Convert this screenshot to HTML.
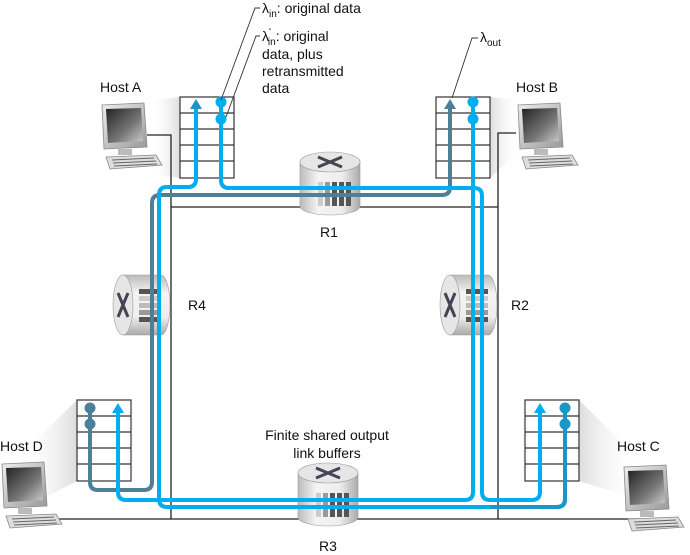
<!DOCTYPE html>
<html><head><meta charset="utf-8"><style>
html,body{margin:0;padding:0;background:#fff;}
svg{display:block;font-family:"Liberation Sans","DejaVu Sans",sans-serif;}
</style></head><body>
<svg width="690" height="555" viewBox="0 0 690 555" xmlns="http://www.w3.org/2000/svg">
<defs>
<linearGradient id="scr" x1="0" y1="0" x2="1" y2="1"><stop offset="0" stop-color="#222"/><stop offset="0.6" stop-color="#777"/><stop offset="1" stop-color="#ccc"/></linearGradient>
<linearGradient id="bez" x1="0" y1="0" x2="1" y2="1"><stop offset="0" stop-color="#eee"/><stop offset="1" stop-color="#999"/></linearGradient>
<linearGradient id="cylV" x1="0" y1="0" x2="1" y2="0"><stop offset="0" stop-color="#bbb"/><stop offset="0.3" stop-color="#f4f4f4"/><stop offset="0.7" stop-color="#eee"/><stop offset="1" stop-color="#aaa"/></linearGradient>
<linearGradient id="cylH" x1="0" y1="0" x2="0" y2="1"><stop offset="0" stop-color="#bbb"/><stop offset="0.3" stop-color="#f4f4f4"/><stop offset="0.7" stop-color="#eee"/><stop offset="1" stop-color="#aaa"/></linearGradient>
<linearGradient id="shL" x1="0" y1="0" x2="1" y2="0"><stop offset="0" stop-color="#fff" stop-opacity="0"/><stop offset="1" stop-color="#ddd"/></linearGradient>
<linearGradient id="shR" x1="1" y1="0" x2="0" y2="0"><stop offset="0" stop-color="#fff" stop-opacity="0"/><stop offset="1" stop-color="#ddd"/></linearGradient>
<g id="host">
  <path d="M2,2 L44,0 L47,44 L4,46 Z" fill="url(#bez)" stroke="#888" stroke-width="0.8"/>
  <path d="M6,6 L41,5 L43,38 L8,40 Z" fill="url(#scr)"/>
  <rect x="18" y="46" width="14" height="6" fill="#bbb"/>
  <path d="M6,54 L56,52 L62,62 L10,66 Z" fill="#ddd" stroke="#888" stroke-width="0.8"/>
  <path d="M12,57 L54,55 M13,60 L56,58 M14,63 L57,61" stroke="#666" stroke-width="1"/>
</g>
<g id="buf">
  <rect x="0" y="0" width="54" height="81" fill="#fff" stroke="#333" stroke-width="1.2"/>
  <path d="M0,16 H54 M0,32 H54 M0,48 H54 M0,64 H54" stroke="#333" stroke-width="1.2"/>
</g>
<g id="rtrV">
  <path d="M0,10 V54 A30,9 0 0 0 60,54 V10 Z" fill="url(#cylV)" stroke="#999" stroke-width="0.6"/>
  <ellipse cx="30" cy="10" rx="30" ry="10" fill="#e6e6e6" stroke="#999" stroke-width="0.6"/>
  <path d="M18,5 L42,15 M42,5 L18,15" stroke="#445" stroke-width="3"/>
  <g fill="#555"><rect x="18" y="30" width="5" height="24" fill="#ccc"/><rect x="25" y="30" width="5" height="24" fill="#999"/><rect x="32" y="30" width="5" height="24"/><rect x="39" y="30" width="5" height="24"/><rect x="46" y="30" width="5" height="24"/></g>
</g>
<g id="rtrH">
  <path d="M10,0 H48 A9,30 0 0 1 48,60 H10 Z" fill="url(#cylH)" stroke="#999" stroke-width="0.6"/>
  <ellipse cx="10" cy="30" rx="10" ry="30" fill="#e6e6e6" stroke="#999" stroke-width="0.6"/>
  <path d="M5,18 L15,42 M15,18 L5,42" stroke="#445" stroke-width="3"/>
  <g fill="#555"><rect x="26" y="14" width="22" height="5"/><rect x="26" y="21" width="22" height="5" fill="#ccc"/><rect x="26" y="28" width="22" height="5" fill="#bbb"/><rect x="26" y="35" width="22" height="5" fill="#999"/><rect x="26" y="42" width="22" height="5"/></g>
</g>
</defs>

<!-- shadows -->
<polygon points="150,100 180,97 180,178 160,175" fill="url(#shL)"/>
<polygon points="490,97 515,100 520,150 490,178" fill="url(#shR)"/>
<polygon points="20,455 77,400 77,481 40,500" fill="url(#shL)"/>
<polygon points="579,400 640,460 640,500 579,481" fill="url(#shR)"/>

<!-- black frame and links -->
<g stroke="#222" stroke-width="1.3" fill="none">
  <path d="M147,135 H171 V519"/>
  <path d="M171,207 H498"/>
  <path d="M516,133 H498 V519"/>
  <path d="M40,519 H640"/>
</g>

<!-- buffers -->
<use href="#buf" x="180" y="97"/>
<use href="#buf" x="436" y="97"/>
<use href="#buf" x="77" y="400"/>
<use href="#buf" x="525" y="400"/>

<!-- routers -->
<use href="#rtrV" x="300" y="152"/>
<use href="#rtrV" x="298" y="463"/>
<use href="#rtrH" x="113" y="275"/>
<use href="#rtrH" x="440" y="275"/>

<!-- hosts -->
<use href="#host" x="100" y="103"/>
<use href="#host" x="516" y="103"/>
<use href="#host" x="0" y="462"/>
<use href="#host" x="622" y="465"/>

<!-- flow paths -->
<g fill="none" stroke-width="4" stroke-linejoin="round">
  <!-- D -> B dark -->
  <path d="M90,408 V482 Q90,490 98,490 H144 Q152,490 152,482 V203 Q152,195 160,195 H442 Q450,195 450,187 V108" stroke="#4e7f99"/>
  <!-- C -> A medium/light -->
  <path d="M565,408 V499 Q565,507 557,507 H167 Q159,507 159,499 V195 Q159,187 167,187 H188 Q196,187 196,179 V108" stroke="#00aeef"/>
  <!-- A -> C -->
  <path d="M221,102 V180 Q221,188 229,188 H474 Q482,188 482,196 V492 Q482,500 490,500 H532 Q540,500 540,492 V410" stroke="#00aeef"/>
  <!-- B -> D -->
  <path d="M473,102 V492 Q473,500 465,500 H126 Q118,500 118,492 V410" stroke="#00aeef"/>
  <path d="M565,408 V499 Q565,507 557,507 H490" stroke="#1b96c6"/>
</g>
<!-- arrowheads -->
<polygon points="196,99 190,109 202,109" fill="#1b96c6"/>
<polygon points="450,99 444,109 456,109" fill="#4e7f99"/>
<polygon points="118,403 112,413 124,413" fill="#00aeef"/>
<polygon points="540,403 534,413 546,413" fill="#00aeef"/>
<!-- circles -->
<g fill="#00aeef"><circle cx="221" cy="102" r="5.5"/><circle cx="221" cy="119" r="5.5"/><circle cx="473" cy="102" r="5.5"/><circle cx="473" cy="119" r="5.5"/></g>
<g fill="#4e7f99"><circle cx="90" cy="408" r="5.5"/><circle cx="90" cy="424" r="5.5"/></g>
<g fill="#1b96c6"><circle cx="565" cy="408" r="5.5"/><circle cx="565" cy="424" r="5.5"/></g>

<!-- leader lines -->
<g stroke="#333" stroke-width="0.9" fill="none">
  <path d="M260,8 H255 L221,100"/>
  <path d="M260,36 H256 L226,117"/>
  <path d="M478,38 H472 L452,98"/>
</g>

<!-- text -->
<g font-size="14" fill="#111">
  <text x="262" y="13">λ<tspan font-size="10" dy="4">in</tspan><tspan dy="-4">: original data</tspan></text>
  <text x="262" y="41">λ<tspan font-size="10" dy="-6">'</tspan><tspan font-size="10" dx="-3" dy="10">in</tspan><tspan dy="-4">: original</tspan></text>
  <text x="262" y="59">data, plus</text>
  <text x="262" y="76">retransmitted</text>
  <text x="262" y="93">data</text>
  <text x="480" y="42">λ<tspan font-size="10" dy="4">out</tspan></text>
  <text x="100" y="92">Host A</text>
  <text x="516" y="92">Host B</text>
  <text x="0" y="451">Host D</text>
  <text x="617" y="451">Host C</text>
  <text x="320" y="237">R1</text>
  <text x="188" y="310">R4</text>
  <text x="511" y="310">R2</text>
  <text x="319" y="551">R3</text>
  <text x="327" y="440" text-anchor="middle">Finite shared output</text>
  <text x="327" y="458" text-anchor="middle">link buffers</text>
</g>
</svg>
</body></html>
